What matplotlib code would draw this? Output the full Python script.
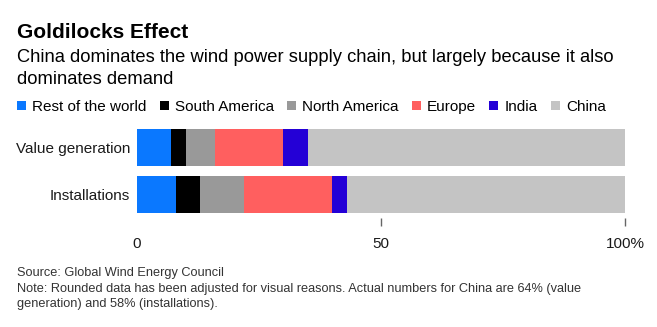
import numpy as np
import matplotlib.pyplot as plt

plt.rcParams['font.family'] = ['Liberation Sans', 'DejaVu Sans']

# data (percent, rounded as in the chart)
categories = ['Value generation', 'Installations']
regions = ['Rest of the world', 'South America', 'North America', 'Europe', 'India', 'China']
values = {
    'Rest of the world': [7, 8],
    'South America': [3, 5],
    'North America': [6, 9],
    'Europe': [14, 18],
    'India': [5, 3],
    'China': [65, 57],
}
colours = ['#0a78ff', '#000000', '#999999', '#ff5f5f', '#2400d6', '#c4c4c4']
xticks = [0, 50, 100]
xticklabels = ['0', '50', '100%']

fig = plt.figure(figsize=(6.57, 3.27), dpi=100)
ax = fig.add_axes([137 / 657, 1 - 218 / 327, 488 / 657, 94 / 327])

y = np.arange(len(categories))
left = np.zeros(len(categories))
handles = []
for reg, col in zip(regions, colours):
    v = np.array(values[reg])
    b = ax.barh(y, v, left=left, height=0.79, color=col)
    handles.append(b)
    left += v

ax.set_xlim(0, 100)
ax.set_ylim(1.5, -0.5)
ax.set_yticks(y)
ax.set_yticklabels(categories, fontsize=11, color='#1a1a1a')
ax.tick_params(axis='y', length=0, pad=5)
ax.set_xticks(xticks)
ax.set_xticklabels(xticklabels, fontsize=11, color='#1a1a1a')
ax.tick_params(axis='x', length=6, width=1, color='#666666', pad=8, direction='out')
ax.xaxis.get_major_ticks()[0].tick1line.set_visible(False)  # no tick at 0
for s in ax.spines.values():
    s.set_visible(False)

fig.text(17 / 657, 1 - 32 / 327, 'Goldilocks Effect', fontsize=15, fontweight='bold', va='center')
fig.text(17 / 657, 1 - 58 / 327, 'China dominates the wind power supply chain, but largely because it also',
         fontsize=13.2, va='center')
fig.text(17 / 657, 1 - 80 / 327, 'dominates demand', fontsize=13.2, va='center')

fig.legend(handles, regions, loc='center left', bbox_to_anchor=(17 / 657, 1 - 107 / 327), ncol=6,
           frameon=False, fontsize=11, handlelength=0.6, handleheight=0.6, handletextpad=0.4,
           columnspacing=0.85, borderaxespad=0, borderpad=0)

fig.text(17 / 657, 1 - 273 / 327, 'Source: Global Wind Energy Council', fontsize=9.2, color='#333333', va='center')
fig.text(17 / 657, 1 - 289 / 327, 'Note: Rounded data has been adjusted for visual reasons. Actual numbers for China are 64% (value',
         fontsize=9.2, color='#333333', va='center')
fig.text(17 / 657, 1 - 304 / 327, 'generation) and 58% (installations).', fontsize=9.2, color='#333333', va='center')

fig.savefig('out.png', dpi=100)
